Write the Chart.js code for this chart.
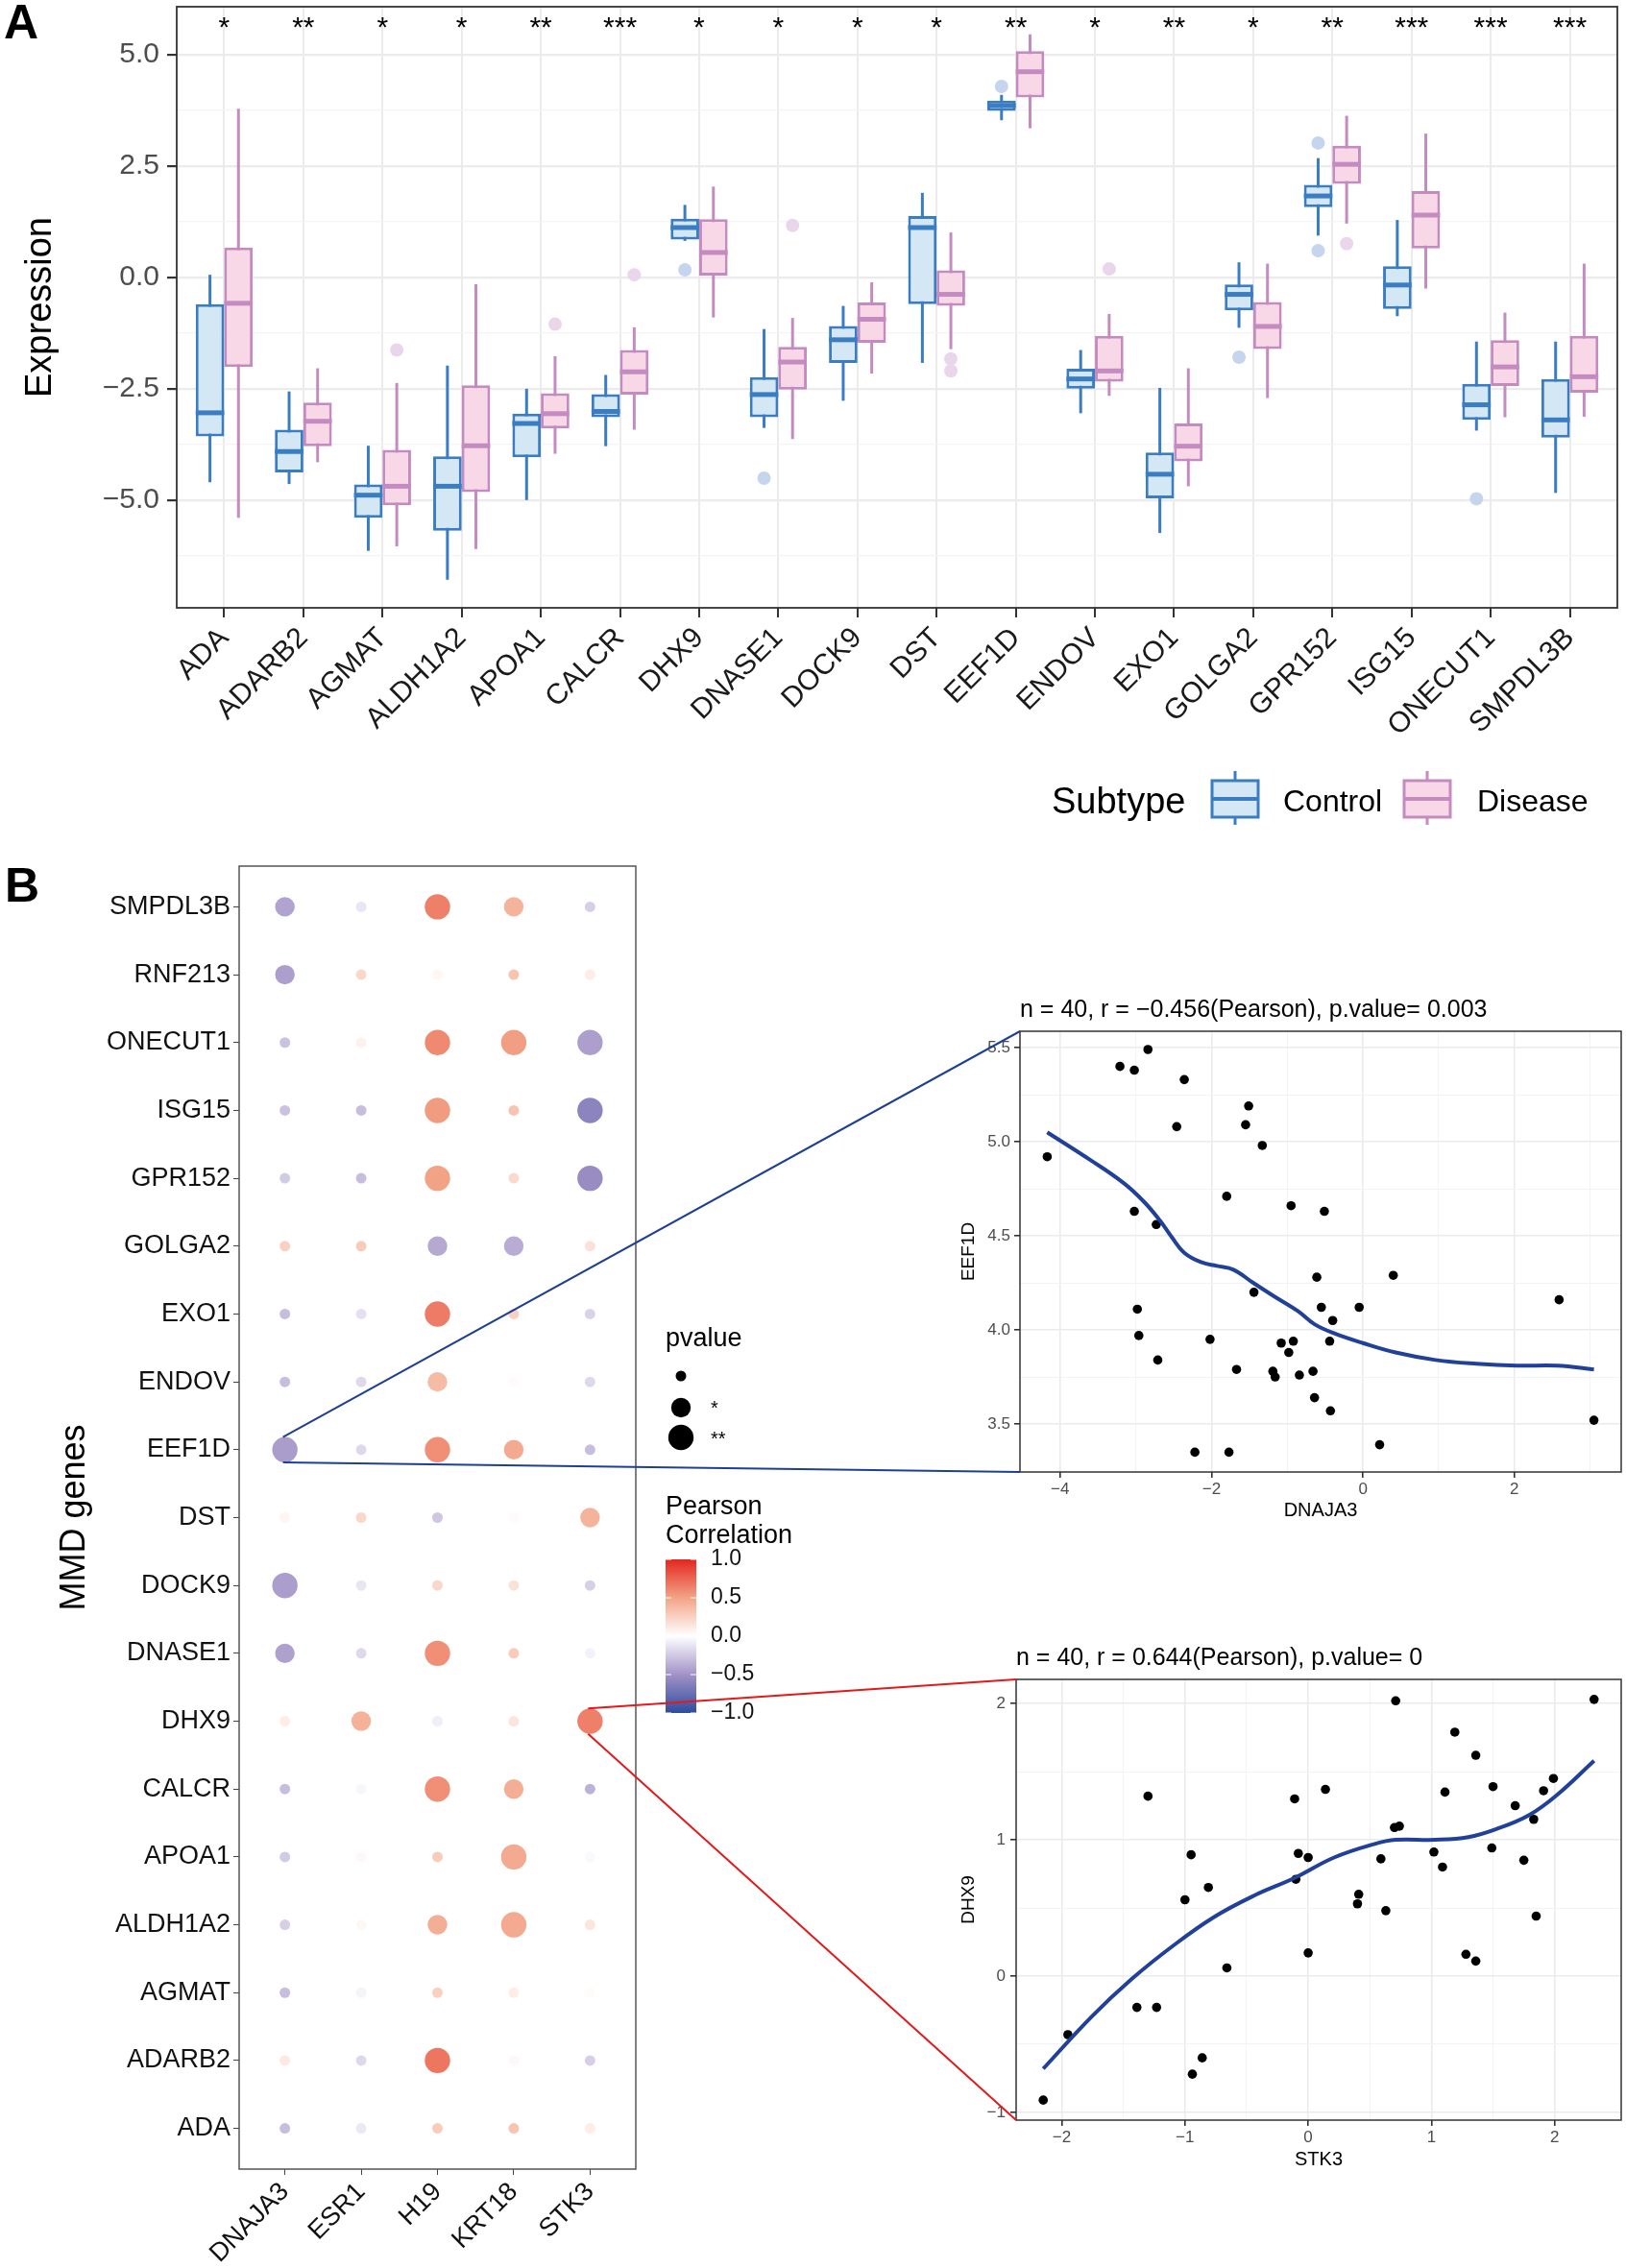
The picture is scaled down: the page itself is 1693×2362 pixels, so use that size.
<!DOCTYPE html>
<html>
<head>
<meta charset="utf-8">
<script src="https://cdn.jsdelivr.net/npm/chart.js@4.4.1/dist/chart.umd.min.js"></script>
<style>
  body { margin: 0; background: #fff; width: 1693px; height: 2362px; position: relative; overflow: hidden;
         font-family: 'Liberation Sans', Arial, Helvetica, sans-serif; }
  canvas { position: absolute; }
  .tag { position: absolute; font-weight: bold; font-size: 50px; line-height: 1; color: #000; }
</style>
</head>
<body>
<div class="tag" style="left:4px;top:-2px">A</div>
<div class="tag" style="left:5px;top:897px">B</div>
<canvas id="boxChart" width="1693" height="880" style="left:0;top:0"></canvas>
<canvas id="dotChart" width="900" height="1482" style="left:0;top:880px"></canvas>
<canvas id="scatter1" width="703" height="580" style="left:990px;top:1020px"></canvas>
<canvas id="scatter2" width="703" height="600" style="left:990px;top:1690px"></canvas>
<canvas id="links" width="1693" height="2362" style="left:0;top:0;pointer-events:none"></canvas>
<script>
// ---- panel A : expression box plots ----
const genes = ['ADA','ADARB2','AGMAT','ALDH1A2','APOA1','CALCR','DHX9','DNASE1','DOCK9','DST',
               'EEF1D','ENDOV','EXO1','GOLGA2','GPR152','ISG15','ONECUT1','SMPDL3B'];
const signif = ['*','**','*','*','**','***','*','*','*','*','**','*','**','*','**','***','***','***'];

// Control: lower whisker, Q1, median, Q3, upper whisker
const ctrlLow  = [-4.60,-4.64,-6.14,-6.79,-5.00,-3.79, 0.82,-3.38,-2.77,-1.92, 3.53,-3.05,-5.74,-1.13, 0.94,-0.87,-3.44,-4.84];
const ctrlQ1   = [-3.57,-4.38,-5.40,-5.69,-4.04,-3.14, 0.85,-3.14,-1.92,-0.60, 3.74,-2.50,-4.96,-0.74, 1.58,-0.71,-3.20,-3.60];
const ctrlMed  = [-3.04,-3.91,-4.89,-4.69,-3.28,-3.01, 1.12,-2.63,-1.40, 1.12, 3.86,-2.28,-4.42,-0.38, 1.83,-0.17,-2.86,-3.20];
const ctrlQ3   = [-0.60,-3.42,-4.65,-4.02,-3.06,-2.62, 1.32,-2.24,-1.09, 1.38, 3.97,-2.05,-3.93,-0.16, 2.08, 0.25,-2.39,-2.28];
const ctrlHigh = [ 0.06,-2.56,-3.78,-1.98,-2.50,-2.19, 1.63,-1.16,-0.64, 1.90, 4.10,-1.63,-2.48, 0.34, 2.68, 1.29,-1.44,-1.44];
const ctrlOut  = [[],[],[],[],[],[],[0.17],[-4.51],[],[],[4.29],[],[],[-1.79],[3.02,0.60],[],[-4.97],[]];

// Disease
const disLow   = [-5.40,-4.15,-6.04,-6.10,-3.96,-3.42,-0.90,-3.63,-2.16,-1.61, 3.35,-2.66,-4.69,-2.71, 1.21,-0.25,-3.14,-3.13];
const disQ1    = [-2.01,-3.79,-5.12,-4.82,-3.39,-2.63, 0.04,-2.52,-1.47,-0.64, 4.04,-2.34,-4.13,-1.61, 2.10, 0.65,-2.44,-2.59];
const disMed   = [-0.58,-3.23,-4.69,-3.78,-3.06,-2.12, 0.56,-1.90,-0.94,-0.38, 4.62,-2.10,-3.79,-1.10, 2.54, 1.40,-2.01,-2.23];
const disQ3    = [ 0.67,-2.81,-3.87,-2.42,-2.60,-1.63, 1.31,-1.56,-0.56, 0.16, 5.08,-1.31,-3.28,-0.55, 2.96, 1.94,-1.41,-1.31];
const disHigh  = [ 3.79,-2.04,-2.37,-0.15,-1.77,-1.12, 2.04,-0.91,-0.11, 1.01, 5.46,-0.82,-2.04, 0.31, 3.63, 3.23,-0.79, 0.31];
const disOut   = [[],[],[-1.63],[],[-1.05],[0.06],[],[1.17],[],[-1.83,-2.10],[],[0.19],[],[],[0.76],[],[],[]];

const yTicksA = [-5, -2.5, 0, 2.5, 5];
const yMinorA = [-6.25, -3.75, -1.25, 1.25, 3.75];

// ---- panel B : correlation dot plot ----
const rowsB = ['ADA','ADARB2','AGMAT','ALDH1A2','APOA1','CALCR','DHX9','DNASE1','DOCK9','DST','EEF1D',
               'ENDOV','EXO1','GOLGA2','GPR152','ISG15','ONECUT1','RNF213','SMPDL3B'];
const colsB = ['DNAJA3','ESR1','H19','KRT18','STK3'];

const corrDNAJA3 = [-0.30, 0.12,-0.30,-0.22,-0.24,-0.30, 0.10,-0.43,-0.45, 0.05,-0.456,-0.30,-0.30, 0.25,-0.24,-0.28,-0.28,-0.44,-0.42];
const corrESR1   = [-0.10,-0.18,-0.05, 0.04, 0.03,-0.04, 0.42,-0.18,-0.12, 0.22,-0.18,-0.18,-0.14, 0.28,-0.30,-0.30, 0.07, 0.22,-0.12];
const corrH19    = [ 0.28, 0.68, 0.25, 0.44, 0.28, 0.58,-0.08, 0.58, 0.22,-0.26, 0.58, 0.37, 0.66,-0.40, 0.50, 0.53, 0.60, 0.04, 0.64];
const corrKRT18  = [ 0.32, 0.03, 0.10, 0.46, 0.46, 0.44, 0.14, 0.28, 0.16, 0.02, 0.46, 0.02, 0.25,-0.38, 0.20, 0.32, 0.52, 0.32, 0.41];
const corrSTK3   = [ 0.10,-0.22, 0.02, 0.14,-0.03,-0.36, 0.644,-0.06,-0.22, 0.41,-0.30,-0.18,-0.20, 0.16,-0.54,-0.60,-0.44, 0.10,-0.22];

// p-value level: 0 = ns, 1 = *, 2 = **
const pDNAJA3 = [0,0,0,0,0,0,0,1,2,0,2,0,0,0,0,0,0,1,1];
const pESR1   = [0,0,0,0,0,0,1,0,0,0,0,0,0,0,0,0,0,0,0];
const pH19    = [0,2,0,1,0,2,0,2,0,0,2,1,2,1,2,2,2,0,2];
const pKRT18  = [0,0,0,2,2,1,0,0,0,0,1,0,0,1,0,0,2,0,1];
const pSTK3   = [0,0,0,0,0,0,2,0,0,1,0,0,0,0,2,2,2,0,0];

const corrB = [corrDNAJA3, corrESR1, corrH19, corrKRT18, corrSTK3];
const pB = [pDNAJA3, pESR1, pH19, pKRT18, pSTK3];
const pLabels = ['', '*', '**'];
const corrBreaks = [1, 0.5, 0, -0.5, -1];

// ---- scatter: EEF1D vs DNAJA3 ----
const dnaja3X = [-4.17,-3.21,-3.02,-2.84,-2.36,-2.46,-1.51,-1.55,-1.33,-1.80,-0.95,-0.51,-3.02,-2.73,-0.61,0.40,-1.44,2.59,-2.98,-0.55,
                 -0.05,-0.40,-2.96,-2.02,-1.08,-0.92,-0.44,-0.98,-2.71,-1.67,-1.19,-1.16,-0.84,-0.66,-0.64,-0.43,3.05,0.22,-2.22,-1.77];
const eef1dY  = [4.92,5.40,5.38,5.49,5.33,5.08,5.19,5.09,4.98,4.71,4.66,4.63,4.63,4.56,4.28,4.29,4.20,4.16,4.11,4.12,
                 4.12,4.05,3.97,3.95,3.93,3.94,3.94,3.88,3.84,3.79,3.78,3.75,3.76,3.78,3.64,3.57,3.52,3.39,3.35,3.35];
const fit1X = [-4.17,-3.59,-3.16,-2.89,-2.68,-2.52,-2.36,-2.14,-1.93,-1.71,-1.45,-1.18,-0.86,-0.64,-0.37,0,0.43,0.96,1.50,2.03,2.57,3.05];
const fit1Y = [5.05,4.90,4.78,4.68,4.58,4.49,4.41,4.36,4.34,4.32,4.25,4.18,4.10,4.03,3.98,3.93,3.88,3.84,3.82,3.81,3.81,3.79];

// ---- scatter: DHX9 vs STK3 ----
const stk3X = [-2.15,-1.95,-1.39,-1.23,-1.30,-1.00,-0.95,-0.81,-0.94,-0.86,-0.66,-0.11,-0.08,-0.10,0.00,0.00,0.14,0.41,0.40,0.59,
               0.63,0.71,0.70,0.74,1.02,1.09,1.11,1.19,1.28,1.36,1.36,1.49,1.50,1.68,1.75,1.83,1.85,1.91,1.99,2.32];
const dhx9Y = [-0.91,-0.43,-0.23,-0.23,1.32,0.56,0.89,0.65,-0.72,-0.60,0.06,1.30,0.90,0.71,0.87,0.17,1.37,0.60,0.53,0.86,
               0.48,2.02,1.09,1.10,0.91,0.80,1.35,1.79,0.16,0.11,1.62,0.94,1.39,1.25,0.85,1.15,0.44,1.36,1.45,2.03];
const fit2X = [-2.15,-1.76,-1.43,-1.10,-0.77,-0.44,-0.11,0.21,0.54,0.71,1.03,1.30,1.53,1.79,2.02,2.32];
const fit2Y = [-0.68,-0.30,-0.02,0.22,0.43,0.59,0.72,0.87,0.97,1.00,1.00,1.02,1.08,1.18,1.33,1.58];

// ---------------------------------------------------------------
Chart.defaults.font.family = "'Liberation Sans', Arial, Helvetica, sans-serif";
Chart.defaults.animation = false;
Chart.defaults.events = [];
Chart.defaults.plugins.legend.display = false;
Chart.defaults.plugins.tooltip.enabled = false;

const CTRL_LINE = '#3A7DC2', CTRL_FILL = '#D3E7F5', CTRL_OUT = '#C6D5EE';
const DIS_LINE = '#C38BBF', DIS_FILL = '#F8D8E7', DIS_OUT = '#E9D6EA';
const DODGE = 0.18;

const fmt = (v, d) => (v < 0 ? '\u2212' : '') + Math.abs(v).toFixed(d);

// fixed axis size, no extra label overhang padding
function fixSize(prop, size) {
  return s => {
    s[prop] = size;
    s.paddingTop = s.paddingBottom = s.paddingLeft = s.paddingRight = 0;
  };
}

function corrColor(v) {
  const stops = [[-1, [46, 76, 158]], [-0.5, [162, 146, 198]], [0, [255, 255, 255]], [0.5, [242, 163, 134]], [1, [228, 38, 31]]];
  v = Math.max(-1, Math.min(1, v));
  for (let k = 0; k < stops.length - 1; k++) {
    const [a, ca] = stops[k], [b, cb] = stops[k + 1];
    if (v >= a && v <= b) {
      const t = (v - a) / (b - a);
      const c = ca.map((x, j) => Math.round(x + (cb[j] - x) * t));
      return `rgb(${c[0]},${c[1]},${c[2]})`;
    }
  }
  return '#fff';
}

function outlierPoints(list, shift) {
  const pts = [];
  list.forEach((vals, i) => vals.forEach(v => pts.push({x: i + shift, y: v})));
  return pts;
}

function drawBoxKey(ctx, cx, line, fill) {
  ctx.save();
  ctx.strokeStyle = line; ctx.lineWidth = 3;
  ctx.beginPath(); ctx.moveTo(cx, 803); ctx.lineTo(cx, 859); ctx.stroke();
  ctx.fillStyle = fill;
  ctx.fillRect(cx - 24, 813, 48, 38);
  ctx.strokeRect(cx - 24, 813, 48, 38);
  ctx.lineWidth = 4;
  ctx.beginPath(); ctx.moveTo(cx - 24, 832); ctx.lineTo(cx + 24, 832); ctx.stroke();
  ctx.restore();
}

const boxExtras = {
  id: 'boxExtras',
  beforeDatasetsDraw(chart) {
    const {ctx, scales: {y}} = chart;
    [[0, ctrlLow, ctrlHigh, CTRL_LINE], [1, disLow, disHigh, DIS_LINE]].forEach(([d, lo, hi, col]) => {
      chart.getDatasetMeta(d).data.forEach((bar, i) => {
        ctx.save();
        ctx.strokeStyle = col; ctx.lineWidth = 3;
        ctx.beginPath();
        ctx.moveTo(bar.x, y.getPixelForValue(hi[i]));
        ctx.lineTo(bar.x, y.getPixelForValue(lo[i]));
        ctx.stroke();
        ctx.restore();
      });
    });
  },
  afterDatasetsDraw(chart) {
    const {ctx, scales: {y}} = chart;
    [[0, ctrlMed, CTRL_LINE], [1, disMed, DIS_LINE]].forEach(([d, med, col]) => {
      chart.getDatasetMeta(d).data.forEach((bar, i) => {
        const py = y.getPixelForValue(med[i]);
        ctx.save();
        ctx.strokeStyle = col; ctx.lineWidth = 5;
        ctx.beginPath();
        ctx.moveTo(bar.x - bar.width / 2, py);
        ctx.lineTo(bar.x + bar.width / 2, py);
        ctx.stroke();
        ctx.restore();
      });
    });
  },
  afterDraw(chart) {
    const {ctx, chartArea: a, scales: {x, y}} = chart;
    ctx.save();
    ctx.strokeStyle = '#333'; ctx.lineWidth = 1.8;
    ctx.strokeRect(a.left, a.top, a.right - a.left, a.bottom - a.top);
    // significance stars
    ctx.fillStyle = '#000'; ctx.font = "30px 'Liberation Sans', Arial, sans-serif";
    ctx.textAlign = 'center'; ctx.textBaseline = 'alphabetic';
    signif.forEach((s, i) => ctx.fillText(s, x.getPixelForValue(i), y.getPixelForValue(5.41)));
    // legend
    ctx.textAlign = 'left';
    ctx.font = "38px 'Liberation Sans', Arial, sans-serif";
    ctx.fillText('Subtype', 1095, 847);
    drawBoxKey(ctx, 1286, CTRL_LINE, CTRL_FILL);
    drawBoxKey(ctx, 1486, DIS_LINE, DIS_FILL);
    ctx.font = "32px 'Liberation Sans', Arial, sans-serif";
    ctx.fillText('Control', 1336, 845);
    ctx.fillText('Disease', 1538, 845);
    ctx.restore();
  }
};

new Chart(document.getElementById('boxChart'), {
  type: 'bar',
  data: {
    datasets: [
      { label: 'Control', data: genes.map((g, i) => ({x: i, y: [ctrlQ1[i], ctrlQ3[i]]})),
        backgroundColor: CTRL_FILL, borderColor: CTRL_LINE, borderWidth: 3, borderSkipped: false,
        categoryPercentage: 0.72, barPercentage: 1 },
      { label: 'Disease', data: genes.map((g, i) => ({x: i, y: [disQ1[i], disQ3[i]]})),
        backgroundColor: DIS_FILL, borderColor: DIS_LINE, borderWidth: 3, borderSkipped: false,
        categoryPercentage: 0.72, barPercentage: 1 },
      { type: 'scatter', label: 'Control outliers', data: outlierPoints(ctrlOut, -DODGE),
        backgroundColor: CTRL_OUT, borderWidth: 0, pointRadius: 7 },
      { type: 'scatter', label: 'Disease outliers', data: outlierPoints(disOut, DODGE),
        backgroundColor: DIS_OUT, borderWidth: 0, pointRadius: 7 }
    ]
  },
  options: {
    responsive: false,
    layout: { padding: { top: 6, right: 9, left: 0, bottom: 0 } },
    scales: {
      x: {
        type: 'linear', min: -0.6, max: genes.length - 0.4, offset: false,
        afterBuildTicks: s => { s.ticks = genes.map((g, i) => ({value: i})); },
        afterFit: fixSize('height', 247),
        grid: { color: '#EBEBEB', lineWidth: 2, tickColor: '#333', tickLength: 10, offset: false },
        border: { display: false },
        ticks: { callback: v => genes[v], autoSkip: false, minRotation: 45, maxRotation: 45,
                 font: { size: 30 }, color: '#1A1A1A', padding: 4 }
      },
      y: {
        min: -7.42, max: 6.08,
        afterBuildTicks: s => { s.ticks = [...yMinorA, ...yTicksA].sort((a, b) => a - b).map(v => ({value: v})); },
        afterFit: fixSize('width', 184),
        grid: {
          color: c => yTicksA.includes(c.tick && c.tick.value) ? '#EBEBEB' : '#F4F4F4',
          lineWidth: c => yTicksA.includes(c.tick && c.tick.value) ? 2.2 : 1.3,
          tickColor: c => yTicksA.includes(c.tick && c.tick.value) ? '#333' : 'rgba(0,0,0,0)',
          tickLength: 10
        },
        border: { display: false },
        ticks: { callback: v => yTicksA.includes(v) ? fmt(v, 1) : '', autoSkip: false,
                 font: { size: 30 }, color: '#4D4D4D', padding: 8 },
        title: { display: true, text: 'Expression', font: { size: 38 }, color: '#000', padding: { top: 20, bottom: 0 } }
      }
    }
  },
  plugins: [boxExtras]
});

// ---------------- panel B dot plot ----------------
const pRadius = [5.5, 10.2, 13.2];

const dotExtras = {
  id: 'dotExtras',
  afterDraw(chart) {
    const {ctx, chartArea: a} = chart;
    const F = "'Liberation Sans', Arial, sans-serif";
    ctx.save();
    ctx.strokeStyle = '#555'; ctx.lineWidth = 1.5;
    ctx.strokeRect(a.left, a.top, a.right - a.left, a.bottom - a.top);
    // size legend
    ctx.fillStyle = '#000'; ctx.textAlign = 'left'; ctx.textBaseline = 'alphabetic';
    ctx.font = '27px ' + F;
    ctx.fillText('pvalue', 693, 522);
    [553, 586, 617].forEach((cy, k) => {
      ctx.beginPath(); ctx.arc(709, cy, pRadius[k], 0, Math.PI * 2); ctx.fill();
    });
    ctx.font = '20px ' + F;
    ctx.fillText(pLabels[1], 740, 593);
    ctx.fillText(pLabels[2], 740, 625);
    // colour bar
    ctx.font = '27px ' + F;
    ctx.fillText('Pearson', 693, 697);
    ctx.fillText('Correlation', 693, 727);
    const top = 744, bot = 904, left = 693, w = 32;
    const g = ctx.createLinearGradient(0, top, 0, bot);
    for (let k = 0; k <= 40; k++) g.addColorStop(k / 40, corrColor(1 - 2 * k / 40));
    ctx.fillStyle = g;
    ctx.fillRect(left, top, w, bot - top);
    ctx.strokeStyle = '#fff'; ctx.lineWidth = 1;
    ctx.font = '23px ' + F; ctx.textBaseline = 'middle';
    corrBreaks.forEach(v => {
      const py = top + (1 - v) / 2 * (bot - top);
      ctx.beginPath();
      ctx.moveTo(left, py); ctx.lineTo(left + 6, py);
      ctx.moveTo(left + w - 6, py); ctx.lineTo(left + w, py);
      ctx.stroke();
      ctx.fillStyle = '#111';
      ctx.fillText(fmt(v, 1), 740, py);
    });
    ctx.restore();
  }
};

const dotChart = new Chart(document.getElementById('dotChart'), {
  type: 'bubble',
  data: {
    datasets: colsB.map((c, ci) => ({
      label: c,
      data: rowsB.map((r, ri) => ({x: ci, y: ri, r: pRadius[pB[ci][ri]]})),
      backgroundColor: corrB[ci].map(corrColor),
      borderWidth: 0
    }))
  },
  options: {
    responsive: false,
    layout: { padding: { top: 22, right: 238, left: 0, bottom: 0 } },
    scales: {
      x: {
        type: 'linear', min: -0.6, max: colsB.length - 0.4,
        afterBuildTicks: s => { s.ticks = colsB.map((c, i) => ({value: i})); },
        afterFit: fixSize('height', 103),
        grid: { drawOnChartArea: false, tickLength: 6, tickColor: '#444' },
        border: { display: false },
        ticks: { callback: v => colsB[v], autoSkip: false, minRotation: 45, maxRotation: 45,
                 font: { size: 27 }, color: '#111', padding: 2 }
      },
      y: {
        type: 'linear', min: -0.6, max: rowsB.length - 0.4,
        afterBuildTicks: s => { s.ticks = rowsB.map((r, i) => ({value: i})); },
        afterFit: fixSize('width', 249),
        grid: { drawOnChartArea: false, tickLength: 6, tickColor: '#444' },
        border: { display: false },
        ticks: { callback: v => rowsB[v], autoSkip: false, font: { size: 27 }, color: '#111', padding: 3 },
        title: { display: true, text: 'MMD genes', font: { size: 36 }, color: '#000', padding: { top: 56, bottom: 0 } }
      }
    }
  },
  plugins: [dotExtras]
});

// ---------------- scatter panels ----------------
const panelFrame = {
  id: 'panelFrame',
  afterDraw(chart, args, opts) {
    const {ctx, chartArea: a} = chart;
    ctx.save();
    ctx.strokeStyle = '#333'; ctx.lineWidth = 1.5;
    ctx.strokeRect(a.left, a.top, a.right - a.left, a.bottom - a.top);
    ctx.fillStyle = '#000'; ctx.textAlign = 'left'; ctx.textBaseline = 'alphabetic';
    ctx.font = "25px 'Liberation Sans', Arial, sans-serif";
    ctx.fillText(opts.text, a.left, a.top - 15.5);
    ctx.restore();
  }
};

function linScale(cfg) {
  const all = [...cfg.minor, ...cfg.major].sort((a, b) => a - b);
  const isMajor = c => cfg.major.includes(c.tick && c.tick.value);
  return {
    type: 'linear', min: cfg.min, max: cfg.max,
    afterBuildTicks: s => { s.ticks = all.map(v => ({value: v})); },
    afterFit: fixSize(cfg.prop, cfg.size),
    grid: {
      color: c => isMajor(c) ? '#EBEBEB' : '#F3F3F3',
      lineWidth: c => isMajor(c) ? 1.6 : 1,
      tickColor: c => isMajor(c) ? '#333' : 'rgba(0,0,0,0)',
      tickLength: 6
    },
    border: { display: false },
    ticks: { callback: v => cfg.major.includes(v) ? fmt(v, cfg.dec) : '', autoSkip: false, maxRotation: 0,
             font: { size: 17 }, color: '#4D4D4D', padding: cfg.pad },
    title: { display: true, text: cfg.title, font: { size: cfg.titleSize }, color: '#000', padding: cfg.titlePad }
  };
}

function scatterChart(id, xs, ys, fx, fy, title, xCfg, yCfg, padTop) {
  return new Chart(document.getElementById(id), {
    type: 'scatter',
    data: {
      datasets: [
        { type: 'line', data: fx.map((v, i) => ({x: v, y: fy[i]})), borderColor: '#21409A', borderWidth: 4,
          pointRadius: 0, tension: 0.4, fill: false, order: 0 },
        { data: xs.map((v, i) => ({x: v, y: ys[i]})), backgroundColor: '#000', borderWidth: 0,
          pointRadius: 4.8, order: 1 }
      ]
    },
    options: {
      responsive: false,
      layout: { padding: { top: padTop, right: 5, left: 0, bottom: 0 } },
      plugins: { panelFrame: { text: title } },
      scales: { x: linScale(xCfg), y: linScale(yCfg) }
    },
    plugins: [panelFrame]
  });
}

const scatter1 = scatterChart('scatter1', dnaja3X, eef1dY, fit1X, fit1Y,
  'n = 40, r = \u22120.456(Pearson), p.value= 0.003',
  { min: -4.53, max: 3.41, major: [-4, -2, 0, 2], minor: [-3, -1, 1, 3], dec: 0, pad: 2,
    prop: 'height', size: 67, title: 'DNAJA3', titleSize: 20, titlePad: { top: 0, bottom: 15 } },
  { min: 3.245, max: 5.587, major: [3.5, 4, 4.5, 5, 5.5], minor: [3.75, 4.25, 4.75, 5.25], dec: 1, pad: 4,
    prop: 'width', size: 72, title: 'EEF1D', titleSize: 19, titlePad: { top: 7, bottom: 0 } },
  54);

const scatter2 = scatterChart('scatter2', stk3X, dhx9Y, fit2X, fit2Y,
  'n = 40, r = 0.644(Pearson), p.value= 0',
  { min: -2.37, max: 2.54, major: [-2, -1, 0, 1, 2], minor: [-1.5, -0.5, 0.5, 1.5], dec: 0, pad: 2,
    prop: 'height', size: 82, title: 'STK3', titleSize: 20, titlePad: { top: 0, bottom: 29 } },
  { min: -1.057, max: 2.177, major: [-1, 0, 1, 2], minor: [-0.5, 0.5, 1.5], dec: 0, pad: 5,
    prop: 'width', size: 68, title: 'DHX9', titleSize: 19, titlePad: { top: 7, bottom: 0 } },
  59);

// ---------------- zoom connectors ----------------
function pagePos(chart, x, y) {
  const r = chart.canvas.getBoundingClientRect();
  return [r.left + window.scrollX + x, r.top + window.scrollY + y];
}

function link(col, row, target, color) {
  const ctx = document.getElementById('links').getContext('2d');
  const el = dotChart.getDatasetMeta(col).data[row];
  const r = (el.options && el.options.radius) || pRadius[pB[col][row]];
  const a = target.chartArea;
  const p1 = pagePos(dotChart, el.x - 2, el.y - r), p2 = pagePos(dotChart, el.x - 2, el.y + r);
  const q1 = pagePos(target, a.left, a.top), q2 = pagePos(target, a.left, a.bottom);
  ctx.save();
  ctx.strokeStyle = color; ctx.lineWidth = 2;
  ctx.beginPath();
  ctx.moveTo(p1[0], p1[1]); ctx.lineTo(q1[0], q1[1]);
  ctx.moveTo(p2[0], p2[1]); ctx.lineTo(q2[0], q2[1]);
  ctx.stroke();
  ctx.restore();
}

link(colsB.indexOf('DNAJA3'), rowsB.indexOf('EEF1D'), scatter1, '#1F3F92');
link(colsB.indexOf('STK3'), rowsB.indexOf('DHX9'), scatter2, '#E31A1C');
</script>
</body>
</html>
